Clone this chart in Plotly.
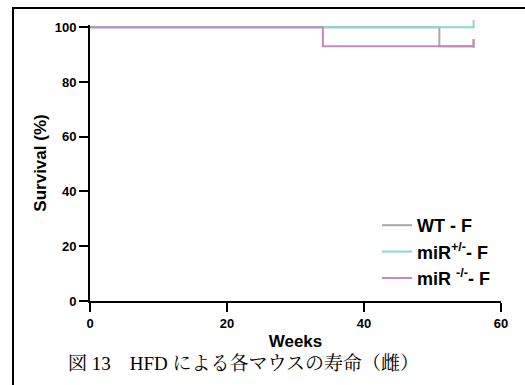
import plotly.graph_objects as go

# Data (Kaplan-Meier steps)
wt_weeks = [0, 51, 56]
wt_surv = [100, 93, 93]
het_weeks = [0, 56]
het_surv = [100, 100]
ko_weeks = [0, 34, 56]
ko_surv = [100, 93, 93]

series_names = ["WT - F", "miR<sup>+/-</sup>- F", "miR <sup>-/-</sup>- F"]
series_colors = ["#a8a8a8", "#88d6e0", "#c888bf"]
x_ticks = [0, 20, 40, 60]
y_ticks = [0, 20, 40, 60, 80, 100]
caption = "図 13　HFD による各マウスの寿命（雌）"

W, H = 525, 385
L, R, T, B = 90, 24, 25, 84
pw, ph = W - L - R, H - T - B

def px_x(p):
    return (p - L) / pw

def px_y(p):
    return (H - B - p) / ph

fig = go.Figure()
for xs, ys, name, col in [(wt_weeks, wt_surv, series_names[0], series_colors[0]),
                          (het_weeks, het_surv, series_names[1], series_colors[1]),
                          (ko_weeks, ko_surv, series_names[2], series_colors[2])]:
    fig.add_trace(go.Scatter(
        x=xs, y=ys, name=name, mode="lines", line=dict(color=col, width=2, shape="hv"),
    ))
# censor ticks at end of follow-up
for xs, ys, col in [(wt_weeks, wt_surv, series_colors[0]),
                    (het_weeks, het_surv, series_colors[1]),
                    (ko_weeks, ko_surv, series_colors[2])]:
    fig.add_trace(go.Scatter(
        x=[xs[-1]], y=[ys[-1]], mode="markers", showlegend=False, cliponaxis=False,
        marker=dict(symbol="line-ns", size=6, standoff=3, angle=180,
                    line=dict(color=col, width=2)),
        hoverinfo="skip",
    ))

tickfont = dict(family="Liberation Sans, Arial", size=13, color="black", weight="bold")
titlefont = dict(family="Liberation Sans, Arial", size=17, color="black", weight="bold")

fig.update_layout(
    width=W, height=H,
    margin=dict(l=L, r=R, t=T, b=B, autoexpand=False),
    paper_bgcolor="white", plot_bgcolor="white",
    showlegend=True,
    legend=dict(
        x=px_x(377), y=px_y(207), xanchor="left", yanchor="top",
        font=dict(family="Liberation Sans, Arial", size=18, color="black", weight="bold"),
        bgcolor="rgba(0,0,0,0)", borderwidth=0, tracegroupgap=0,
    ),
    xaxis=dict(
        range=[0, 60], tickvals=x_ticks, ticks="outside", ticklen=9, tickwidth=2,
        tickcolor="black", showline=True, linecolor="black", linewidth=2,
        showgrid=False, zeroline=False, tickfont=tickfont,
        title=dict(text="Weeks", font=titlefont, standoff=6),
    ),
    yaxis=dict(
        range=[0, 100.8], tickvals=y_ticks, ticks="outside", ticklen=9, tickwidth=2,
        tickcolor="black", showline=True, linecolor="black", linewidth=2,
        showgrid=False, zeroline=False, tickfont=tickfont,
        title=dict(text="Survival (%)", font=titlefont, standoff=4),
    ),
    shapes=[dict(type="rect", xref="paper", yref="paper",
                 x0=px_x(13), x1=px_x(535), y0=px_y(395), y1=px_y(8),
                 line=dict(color="black", width=2), fillcolor="rgba(0,0,0,0)")],
    annotations=[dict(
        text=caption, xref="paper", yref="paper", x=px_x(66), y=px_y(363),
        xanchor="left", yanchor="middle", showarrow=False,
        font=dict(family="Liberation Serif, Noto Serif CJK JP, Noto Sans CJK JP", size=19, color="black"),
    )],
)

fig.write_html("out.html")
